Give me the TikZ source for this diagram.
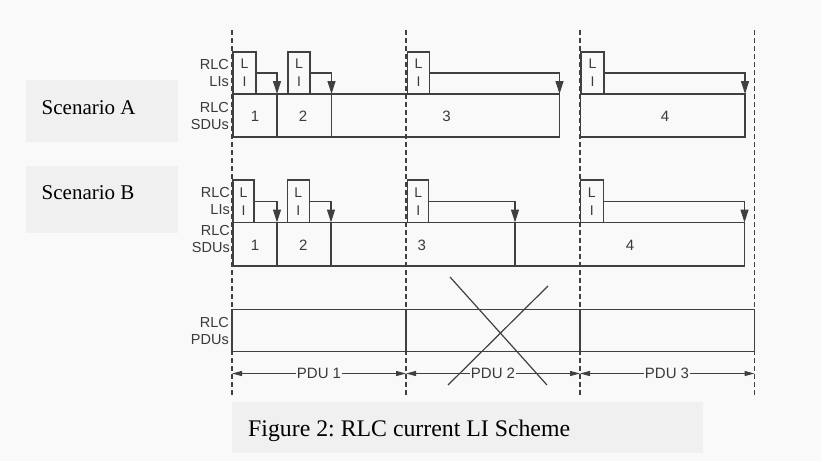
\documentclass[tikz,border=0pt]{standalone}
\usepackage{fontspec}
\setmainfont{Liberation Sans}
\newfontfamily\seriffont{Liberation Serif}
\usetikzlibrary{arrows.meta}
\frenchspacing
\definecolor{ink}{HTML}{404040}
\definecolor{labelink}{HTML}{3A3A3A}
\definecolor{pagebg}{HTML}{F9F9F9}
\definecolor{boxbg}{HTML}{F0F0F0}
\tikzset{
  lane/.style={draw=ink, line width=1.2pt},
  dashline/.style={draw=ink, line width=1.1pt, dash pattern=on 5pt off 3pt},
  libox/.style={draw=ink, line width=1.2pt, minimum width=22pt, minimum height=42pt,
    inner sep=0pt, align=center, font=\fontsize{14}{17}\selectfont, text=labelink},
  rowlabel/.style={anchor=east, align=right, inner sep=0pt, text=labelink,
    font=\fontsize{14.5}{17}\selectfont},
  num/.style={inner sep=0pt, text=labelink, font=\fontsize{15}{17}\selectfont},
  downarrow/.style={draw=ink, line width=1.2pt, -{Triangle[width=8pt,length=13pt]}},
  pduarrow/.style={draw=ink, line width=1.2pt, -{Triangle[width=5pt,length=10pt]}},
  pdulabel/.style={inner sep=1pt, fill=pagebg, text=labelink, font=\fontsize{15}{17}\selectfont},
  scenbox/.style={fill=boxbg, inner sep=0pt, minimum width=152pt, anchor=north west},
  scentext/.style={anchor=base west, inner sep=0pt, font=\seriffont\fontsize{21}{24}\selectfont},
  crossline/.style={draw=ink, line width=1.2pt}
}
\begin{document}
\begin{tikzpicture}[x=1pt,y=-1pt]
\useasboundingbox (0,0) rectangle (821,461);
\fill[pagebg] (0,0) rectangle (821,461);

% scenario label boxes and caption box
\node[scenbox, minimum height=62pt] (sa) at (26,80) {};
\node[scentext] (sat) at (41.5,114) {Scenario A};
\node[scenbox, minimum height=67pt] (sb) at (26,166) {};
\node[scentext] (sbt) at (41.5,199.5) {Scenario B};
\node[fill=boxbg, inner sep=0pt, minimum width=471pt, minimum height=51pt, anchor=north west] (capbox) at (232,402) {};
\node[anchor=base west, inner sep=0pt, font=\seriffont\fontsize{23.8}{26}\selectfont] (cap) at (248,436.5) {Figure 2: RLC current LI Scheme};

% dashed vertical guides
\foreach \x/\n in {232/d1,406/d2,580/d3,754.5/d4}{
  \coordinate (\n top) at (\x,30);
  \coordinate (\n bot) at (\x,396);
  \draw[dashline] (\n top) -- (\n bot);
}

% row labels
\node[rowlabel] (la1) at (229,73.5) {RLC\\LIs};
\node[rowlabel] (la2) at (229,116) {RLC\\SDUs};
\node[rowlabel] (lb1) at (230,201) {RLC\\LIs};
\node[rowlabel] (lb2) at (230,239) {RLC\\SDUs};
\node[rowlabel] (lp) at (229,331) {RLC\\PDUs};

% ---------- Scenario A ----------
\draw[lane] (233,94) rectangle (559.5,137);
\draw[lane] (580.5,94) rectangle (745,137);
\draw[lane] (277,94) -- (277,137);
\draw[lane] (331.5,94) -- (331.5,137);
\node[libox, minimum width=23pt] (lia1) at (244.5,73) {L\\[1pt]I};
\node[libox] (lia2) at (299,73) {L\\[1pt]I};
\node[libox] (lia3) at (418.5,73) {L\\[1pt]I};
\node[libox, minimum width=23pt] (lia4) at (592.5,73) {L\\[1pt]I};
\coordinate (ta1) at (277,94);
\coordinate (ta2) at (331.5,94);
\coordinate (ta3) at (559.5,94);
\coordinate (ta4) at (745,94);
\draw[downarrow] (lia1.east) -| (ta1);
\draw[downarrow] (lia2.east) -| (ta2);
\draw[downarrow] (lia3.east) -| (ta3);
\draw[downarrow] (lia4.east) -| (ta4);
\node[num] (na1) at (255,116) {1};
\node[num] (na2) at (303,116) {2};
\node[num] (na3) at (446.5,116) {3};
\node[num] (na4) at (665,116) {4};

% ---------- Scenario B ----------
\draw[lane] (233,222.5) rectangle (744.5,266);
\draw[lane] (277,222.5) -- (277,266);
\draw[lane] (331,222.5) -- (331,266);
\draw[lane] (515,222.5) -- (515,266);
\node[libox, minimum width=21pt, minimum height=42.5pt] (lib1) at (243.5,201.25) {L\\[1pt]I};
\node[libox, minimum height=42.5pt] (lib2) at (298.3,201.25) {L\\[1pt]I};
\node[libox, minimum width=21pt, minimum height=42.5pt] (lib3) at (418.2,201.25) {L\\[1pt]I};
\node[libox, minimum width=23pt, minimum height=42.5pt] (lib4) at (591.7,201.25) {L\\[1pt]I};
\coordinate (tb1) at (277,222.5);
\coordinate (tb2) at (331,222.5);
\coordinate (tb3) at (515,222.5);
\coordinate (tb4) at (744.5,222.5);
\draw[downarrow] (lib1.east) -| (tb1);
\draw[downarrow] (lib2.east) -| (tb2);
\draw[downarrow] (lib3.east) -| (tb3);
\draw[downarrow] (lib4.east) -| (tb4);
\node[num] (nb1) at (255,245) {1};
\node[num] (nb2) at (303.3,245) {2};
\node[num] (nb3) at (421.7,245) {3};
\node[num] (nb4) at (630,245) {4};

% ---------- PDUs ----------
\draw[lane] (232,309.5) rectangle (754.5,351.5);
\draw[lane] (406,309.5) -- (406,351.5);
\draw[lane] (580,309.5) -- (580,351.5);

% cross over PDU 2
\coordinate (xa) at (450,277);
\coordinate (xb) at (547,385);
\coordinate (xc) at (548,286);
\coordinate (xd) at (448,385);
\draw[crossline] (xa) -- (xb);
\draw[crossline] (xc) -- (xd);

% PDU extent arrows
\coordinate (pa0) at (232,373.5);
\coordinate (pa1) at (406,373.5);
\coordinate (pa2) at (580,373.5);
\coordinate (pa3) at (754.5,373.5);
\node[pdulabel] (pdu1) at (319,373.5) {PDU 1};
\node[pdulabel, fill=none] (pdu2) at (493,373.5) {PDU 2};
\node[pdulabel] (pdu3) at (667,373.5) {PDU 3};
\draw[pduarrow] (pdu1.west) -- (pa0);
\draw[pduarrow] (pdu1.east) -- (pa1);
\draw[pduarrow] (pdu2.west) -- (pa1);
\draw[pduarrow] (pdu2.east) -- (pa2);
\draw[pduarrow] (pdu3.west) -- (pa2);
\draw[pduarrow] (pdu3.east) -- (pa3);
\end{tikzpicture}
\end{document}
